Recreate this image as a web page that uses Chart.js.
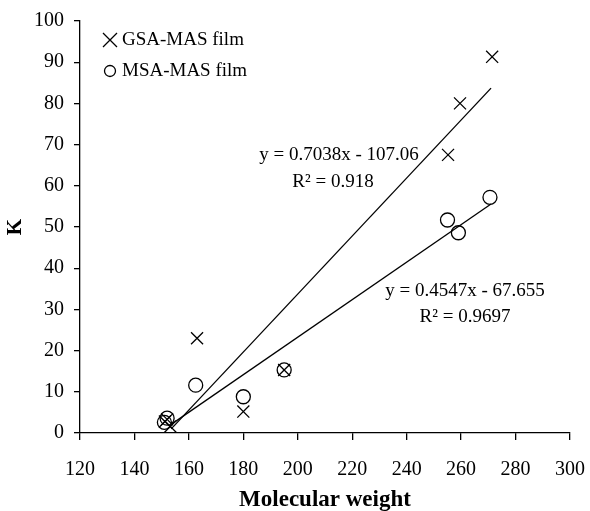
<!DOCTYPE html>
<html>
<head>
<meta charset="utf-8">
<script src="https://cdn.jsdelivr.net/npm/chart.js@4.4.1/dist/chart.umd.min.js"></script>
<style>
  html, body { margin: 0; padding: 0; background: #fff; }
  #wrap { width: 590px; height: 511px; position: relative; }
</style>
</head>
<body>
<div id="wrap"><canvas id="kChart"></canvas></div>
<script>
// values
const gsaMw = [151.2, 152.0, 153.2, 163.0, 180.0, 195.0, 255.2, 259.6, 271.4];
const gsaK  = [2.8, 3.3, 1.6, 23.0, 5.2, 15.3, 67.5, 80.0, 91.3];
const msaMw = [151.0, 152.0, 162.5, 180.0, 195.0, 255.0, 259.0, 270.6];
const msaK  = [2.6, 3.6, 11.6, 8.8, 15.3, 51.7, 48.6, 57.2];

// trend line end points (as drawn)
const gsaFitMw = [153.5, 271.0];
const gsaFitK  = [1.0, 83.7];
const msaFitMw = [153.5, 271.0];
const msaFitK  = [2.1, 55.6];

const seriesNames = ['GSA-MAS film', 'MSA-MAS film'];
const equations = [
  ['y = 0.7038x - 107.06', 'R\u00b2 = 0.918'],
  ['y = 0.4547x - 67.655', 'R\u00b2 = 0.9697']
];

const xTicks = [120, 140, 160, 180, 200, 220, 240, 260, 280, 300];
const yTicks = [0, 10, 20, 30, 40, 50, 60, 70, 80, 90, 100];

const serif = '"Liberation Serif", "Times New Roman", serif';
const toPoints = (xs, ys) => xs.map((x, i) => ({ x, y: ys[i] }));

const overlay = {
  id: 'overlay',
  afterDraw(chart) {
    const { ctx } = chart;
    ctx.save();
    ctx.fillStyle = '#000';
    ctx.strokeStyle = '#000';
    ctx.lineWidth = 1.3;

    // legend
    const lx = 110, ly = [40, 71];
    ctx.beginPath();
    ctx.moveTo(lx - 7, ly[0] - 7); ctx.lineTo(lx + 7, ly[0] + 7);
    ctx.moveTo(lx + 7, ly[0] - 7); ctx.lineTo(lx - 7, ly[0] + 7);
    ctx.stroke();
    ctx.beginPath();
    ctx.arc(lx, ly[1], 5.5, 0, Math.PI * 2);
    ctx.stroke();
    ctx.font = '19px ' + serif;
    ctx.textBaseline = 'middle';
    ctx.textAlign = 'left';
    ctx.fillText(seriesNames[0], 122, ly[0]);
    ctx.fillText(seriesNames[1], 122, ly[1]);

    // equations
    ctx.textAlign = 'center';
    ctx.font = '19px ' + serif;
    ctx.fillText(equations[0][0], 339, 155);
    ctx.fillText(equations[0][1], 333, 182);
    ctx.fillText(equations[1][0], 465, 291);
    ctx.fillText(equations[1][1], 465, 317);
    ctx.restore();
  }
};

new Chart(document.getElementById('kChart'), {
  type: 'scatter',
  data: {
    datasets: [
      {
        label: seriesNames[0],
        data: toPoints(gsaMw, gsaK),
        pointStyle: 'crossRot',
        pointRadius: 8.5,
        borderColor: '#000',
        borderWidth: 1.3
      },
      {
        label: seriesNames[1],
        data: toPoints(msaMw, msaK),
        pointStyle: 'circle',
        pointRadius: 7,
        borderColor: '#000',
        backgroundColor: 'rgba(0,0,0,0)',
        borderWidth: 1.3
      },
      {
        label: 'GSA fit',
        data: toPoints(gsaFitMw, gsaFitK),
        showLine: true,
        pointRadius: 0,
        borderColor: '#000',
        borderWidth: 1.3
      },
      {
        label: 'MSA fit',
        data: toPoints(msaFitMw, msaFitK),
        showLine: true,
        pointRadius: 0,
        borderColor: '#000',
        borderWidth: 1.3
      }
    ]
  },
  options: {
    responsive: true,
    maintainAspectRatio: false,
    animation: false,
    layout: { padding: { top: 21, right: 20, left: 3, bottom: 0 } },
    plugins: { legend: { display: false }, tooltip: { enabled: false } },
    scales: {
      x: {
        type: 'linear',
        min: 120,
        max: 300,
        afterBuildTicks: (s) => { s.ticks = xTicks.map((v) => ({ value: v })); },
        afterFit: (s) => { s.height = 78; s.paddingRight = 0; s.paddingLeft = 0; },
        border: { display: true, color: '#000', width: 1.3 },
        grid: { drawOnChartArea: false, drawTicks: true, tickLength: 7, color: '#000', lineWidth: 1.3 },
        ticks: { color: '#000', padding: 18, maxRotation: 0, font: { family: serif, size: 20 } },
        title: { display: true, text: 'Molecular weight', color: '#000', padding: { top: 5, bottom: -3 }, font: { family: serif, size: 23, weight: 'bold' } }
      },
      y: {
        type: 'linear',
        min: 0,
        max: 100,
        afterBuildTicks: (s) => { s.ticks = yTicks.map((v) => ({ value: v })); },
        afterFit: (s) => { s.width = 77; s.paddingTop = 0; s.paddingBottom = 0; },
        border: { display: true, color: '#000', width: 1.3 },
        grid: { drawOnChartArea: false, drawTicks: true, tickLength: 6, color: '#000', lineWidth: 1.3 },
        ticks: { color: '#000', padding: 10, font: { family: serif, size: 20 } },
        title: { display: true, text: 'K', color: '#000', padding: 0, font: { family: serif, size: 21, weight: 'bold' } }
      }
    }
  },
  plugins: [overlay]
});
</script>
</body>
</html>
